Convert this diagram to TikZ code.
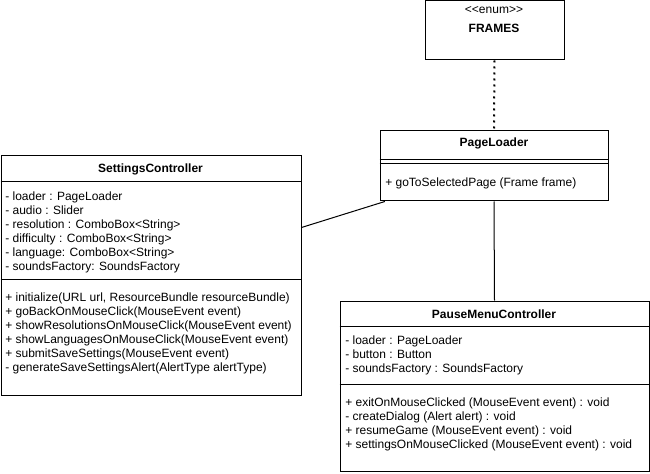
\documentclass[tikz,border=0pt]{standalone}
\usepackage{fontspec}
\setmainfont{Liberation Sans}
\usetikzlibrary{positioning}

\begin{document}
\begin{tikzpicture}[x=0.75pt, y=-0.75pt,
    every node/.style={font=\fontsize{9}{10.5}\selectfont},
    box/.style={draw, line width=0.75pt, anchor=north west, inner sep=0pt},
    title/.style={font=\fontsize{9}{10.5}\selectfont\bfseries},
    member/.style={anchor=north west, align=left, inner sep=0pt}]
  \useasboundingbox (0,0) rectangle (650,474);

  % class boxes
  \node[box, minimum width=104.25pt, minimum height=44.25pt] (frames) at (424.5,0.5) {};
  \node[box, minimum width=171pt, minimum height=52.5pt] (pageloader) at (379.5,130.5) {};
  \node[box, minimum width=225pt, minimum height=179.25pt] (settings) at (0.5,155.5) {};
  \node[box, minimum width=231.75pt, minimum height=127.5pt] (pausemenu) at (339.5,300.5) {};

  % compartments
  \draw[line width=0.75pt] (379.5,160) -- (607.5,160);
  \draw[line width=0.75pt] (379.5,163.5) -- (607.5,163.5);
  \draw[line width=0.75pt] (0.5,181.5) -- (300.5,181.5);
  \draw[line width=0.75pt] (0.5,279.5) -- (300.5,279.5);
  \draw[line width=0.75pt] (339.5,326.5) -- (648.5,326.5);
  \draw[line width=0.75pt] (339.5,384.5) -- (648.5,384.5);

  % texts
  \node (frames-stereo) at (494,10) {{<}{<}enum{>}{>}};
  \node[title] (frames-name) at (494,28) {FRAMES};

  \node[title] (pageloader-name) at (494,143) {PageLoader};
  \node[member] (pageloader-ops) at (385,178) {+ goToSelectedPage (Frame frame)};

  \node[title] (settings-name) at (150.5,169) {SettingsController};
  \node[member] (settings-attrs) at (5,191.5) {- loader : PageLoader\\
    - audio : Slider\\
    - resolution : ComboBox<String>\\
    - difficulty : ComboBox<String>\\
    - language: ComboBox<String>\\
    - soundsFactory: SoundsFactory};
  \node[member] (settings-ops) at (5,293) {+ initialize(URL url, ResourceBundle resourceBundle)\\
    + goBackOnMouseClick(MouseEvent event)\\
    + showResolutionsOnMouseClick(MouseEvent event)\\
    + showLanguagesOnMouseClick(MouseEvent event)\\
    + submitSaveSettings(MouseEvent event)\\
    - generateSaveSettingsAlert(AlertType alertType)};

  \node[title] (pausemenu-name) at (494,314) {PauseMenuController};
  \node[member] (pausemenu-attrs) at (345,336) {- loader : PageLoader\\
    - button : Button\\
    - soundsFactory : SoundsFactory};
  \node[member] (pausemenu-ops) at (345,398) {+ exitOnMouseClicked (MouseEvent event) : void\\
    - createDialog (Alert alert) : void\\
    + resumeGame (MouseEvent event) : void\\
    + settingsOnMouseClicked (MouseEvent event) : void};

  % relations
  \draw[line width=1.5pt, dash pattern=on 1.5pt off 3pt] (frames.south) -- (pageloader.north);
  \draw[line width=0.75pt] ([xshift=4pt]pageloader.south west) -- ([yshift=-54pt]settings.north east);
  \draw[line width=0.75pt] (pageloader.south) -- (pausemenu.north);
\end{tikzpicture}
\end{document}
